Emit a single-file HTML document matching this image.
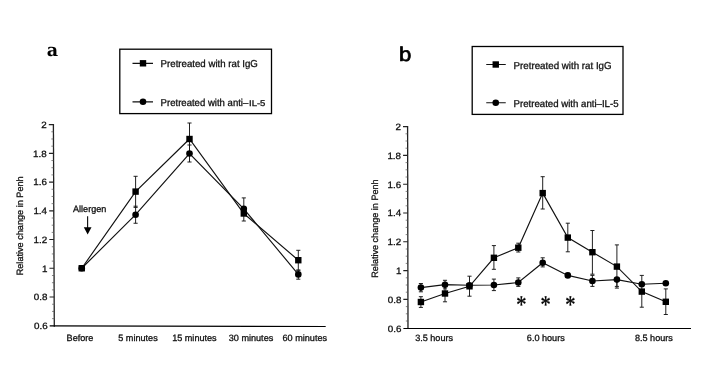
<!DOCTYPE html>
<html lang="en"><head><meta charset="utf-8"><title>Relative change in Penh</title>
<style>html,body{margin:0;padding:0;background:#fff}body{width:701px;height:368px;overflow:hidden}svg{display:block;will-change:transform}text{font-family:"Liberation Sans",Arial,Helvetica,sans-serif;fill:#111;stroke:#111;stroke-width:0.3px;text-rendering:geometricPrecision}.t{font-size:9.1px}.x{font-size:9.1px}.y{font-size:9.2px}.lg{font-size:10px}.ln{stroke:#111;stroke-width:1.15;fill:none}.ax{stroke:#222;stroke-width:1.3;fill:none}.eb{stroke:#151515;stroke-width:0.95;fill:none}.mk{fill:#000}.mn{stroke:#555;stroke-width:0.7}</style></head><body>
<svg width="701" height="368" viewBox="0 0 701 368">
<rect width="701" height="368" fill="#fff"/>
<text x="46.8" y="55.9" style="font-family:'DejaVu Serif','Liberation Serif',serif;font-weight:bold;font-size:17.5px;fill:#000;stroke:none">a</text>
<rect x="119.8" y="49.2" width="151.7" height="64.4" fill="none" stroke="#000" stroke-width="1.3"/>
<path class="ln" d="M132.5 63.3H153M132.5 101.8H153"/>
<rect class="mk" x="139.8" y="60.1" width="6.4" height="6.4"/>
<circle class="mk" cx="143" cy="101.8" r="3.3"/>
<text class="lg" x="160.6" y="67.1" textLength="97.3" lengthAdjust="spacingAndGlyphs">Pretreated with rat IgG</text>
<text class="lg" x="160.6" y="105.6" textLength="87.7" lengthAdjust="spacingAndGlyphs">Pretreated with anti–</text>
<text class="lg" x="249" y="105.6" style="font-size:8.3px" textLength="16.4" lengthAdjust="spacingAndGlyphs">IL-5</text>
<path class="ax" d="M53.4 124L54.3 326.8"/>
<path class="ax" style="stroke:#000;stroke-width:1.1" d="M49.7 325.9L325.7 326.5"/>
<text class="t" transform="translate(46.6,127.9) scale(1.08,1)" text-anchor="end">2</text>
<text class="t" transform="translate(46.76,156.64) scale(1.08,1)" text-anchor="end">1.8</text>
<text class="t" transform="translate(46.91,185.39) scale(1.08,1)" text-anchor="end">1.6</text>
<text class="t" transform="translate(47.07,214.13) scale(1.08,1)" text-anchor="end">1.4</text>
<text class="t" transform="translate(47.23,242.87) scale(1.08,1)" text-anchor="end">1.2</text>
<text class="t" transform="translate(47.39,271.61) scale(1.08,1)" text-anchor="end">1</text>
<text class="t" transform="translate(47.54,300.36) scale(1.08,1)" text-anchor="end">0.8</text>
<text class="t" transform="translate(47.7,329.1) scale(1.08,1)" text-anchor="end">0.6</text>
<path class="ax" style="stroke-width:1.1" d="M48.8 124.6H53.4M48.93 153.34H53.53M49.06 182.09H53.66M49.19 210.83H53.79M49.31 239.57H53.91M49.44 268.31H54.04M49.57 297.06H54.17"/>
<path class="mn" d="M51.3 131.79H53.4M51.3 138.97H53.4M51.3 146.16H53.4M51.43 160.53H53.53M51.43 167.71H53.53M51.43 174.9H53.53M51.56 189.27H53.66M51.56 196.46H53.66M51.56 203.64H53.66M51.69 218.01H53.79M51.69 225.2H53.79M51.69 232.39H53.79M51.81 246.76H53.91M51.81 253.94H53.91M51.81 261.13H53.91M51.94 275.5H54.04M51.94 282.69H54.04M51.94 289.87H54.04M52.07 304.24H54.17M52.07 311.43H54.17M52.07 318.61H54.17"/>
<text class="y" transform="translate(23.4,275.3) rotate(-90)" textLength="99" lengthAdjust="spacingAndGlyphs">Relative change in Penh</text>
<text class="x" x="80" y="340.8" text-anchor="middle">Before</text>
<text class="x" x="138" y="340.8" text-anchor="middle">5 minutes</text>
<text class="x" x="194.4" y="340.8" text-anchor="middle">15 minutes</text>
<text class="x" x="251" y="340.8" text-anchor="middle">30 minutes</text>
<text class="x" x="304.8" y="340.8" text-anchor="middle">60 minutes</text>
<text class="x" x="73" y="212" textLength="33.3" lengthAdjust="spacingAndGlyphs">Allergen</text>
<path class="ln" d="M87.6 216.2V229"/><path class="mk" d="M83.8 227.2H91.5L87.65 234.4Z"/>
<path class="eb" d="M135.6 176.3V207.4M133.55 176.3H137.65M133.55 207.4H137.65M135.6 206.2V223.25M133.55 206.2H137.65M133.55 223.25H137.65M189.5 123V155.5M187.45 123H191.55M187.45 155.5H191.55M189.5 145V162M187.45 145H191.55M187.45 162H191.55M243.8 197.9V221M241.75 197.9H245.85M241.75 221H245.85M298.3 250.3V270M296.25 250.3H300.35M296.25 270H300.35M298.3 270.3V279.2M296.25 270.3H300.35M296.25 279.2H300.35"/>
<path class="ln" d="M81.75 268.25 L135.6 191.6 L189.5 139 L243.8 213.5 L298.3 260.2"/>
<path class="ln" d="M81.75 268.25 L135.6 214.7 L189.5 153.5 L243.8 208.8 L298.3 274.4"/>
<circle class="mk" cx="81.75" cy="268.25" r="3.3"/>
<rect class="mk" x="78.55" y="265.05" width="6.4" height="6.4"/>
<circle class="mk" cx="135.6" cy="214.7" r="3.3"/>
<rect class="mk" x="132.4" y="188.4" width="6.4" height="6.4"/>
<circle class="mk" cx="189.5" cy="153.5" r="3.3"/>
<rect class="mk" x="186.3" y="135.8" width="6.4" height="6.4"/>
<circle class="mk" cx="243.8" cy="208.8" r="3.3"/>
<rect class="mk" x="240.6" y="210.3" width="6.4" height="6.4"/>
<circle class="mk" cx="298.3" cy="274.4" r="3.3"/>
<rect class="mk" x="295.1" y="257" width="6.4" height="6.4"/>
<text transform="translate(399.1,61.3) scale(1.11,1)" style="font-size:19.9px;fill:#000;stroke:#000;stroke-width:0.7px">b</text>
<rect x="472.2" y="46.5" width="150.8" height="67.9" fill="none" stroke="#000" stroke-width="1.3"/>
<path class="ln" d="M486.25 64.5H505.75M486.25 102.75H505.75"/>
<rect class="mk" x="492.55" y="61.3" width="6.4" height="6.4"/>
<circle class="mk" cx="495.75" cy="102.75" r="3.3"/>
<text class="lg" x="513.6" y="68.8" textLength="98" lengthAdjust="spacingAndGlyphs">Pretreated with rat IgG</text>
<text class="lg" x="513.6" y="106.5" textLength="104.9" lengthAdjust="spacingAndGlyphs">Pretreated with anti–IL-5</text>
<path class="ax" d="M407.6 126L408 328.8"/>
<path class="ax" style="stroke:#000;stroke-width:1.1" d="M403.4 328.5L691 328.5"/>
<text class="t" transform="translate(401,129.9) scale(1.08,1)" text-anchor="end">2</text>
<text class="t" transform="translate(401.07,158.7) scale(1.08,1)" text-anchor="end">1.8</text>
<text class="t" transform="translate(401.14,187.5) scale(1.08,1)" text-anchor="end">1.6</text>
<text class="t" transform="translate(401.21,216.3) scale(1.08,1)" text-anchor="end">1.4</text>
<text class="t" transform="translate(401.29,245.1) scale(1.08,1)" text-anchor="end">1.2</text>
<text class="t" transform="translate(401.36,273.9) scale(1.08,1)" text-anchor="end">1</text>
<text class="t" transform="translate(401.43,302.7) scale(1.08,1)" text-anchor="end">0.8</text>
<text class="t" transform="translate(401.5,331.5) scale(1.08,1)" text-anchor="end">0.6</text>
<path class="ax" style="stroke-width:1.1" d="M403 126.6H407.6M403.06 155.4H407.66M403.11 184.2H407.71M403.17 213H407.77M403.23 241.8H407.83M403.29 270.6H407.89M403.34 299.4H407.94"/>
<path class="mn" d="M405.5 133.8H407.6M405.5 141H407.6M405.5 148.2H407.6M405.56 162.6H407.66M405.56 169.8H407.66M405.56 177H407.66M405.61 191.4H407.71M405.61 198.6H407.71M405.61 205.8H407.71M405.67 220.2H407.77M405.67 227.4H407.77M405.67 234.6H407.77M405.73 249H407.83M405.73 256.2H407.83M405.73 263.4H407.83M405.79 277.8H407.89M405.79 285H407.89M405.79 292.2H407.89M405.84 306.6H407.94M405.84 313.8H407.94M405.84 321H407.94"/>
<text class="y" transform="translate(378.3,277.7) rotate(-90)" textLength="98.3" lengthAdjust="spacingAndGlyphs">Relative change in Penh</text>
<text class="x" x="434.1" y="340.6" text-anchor="middle">3.5 hours</text>
<text class="x" x="545.8" y="340.6" text-anchor="middle">6.0 hours</text>
<text class="x" x="653.9" y="340.6" text-anchor="middle">8.5 hours</text>
<path class="eb" d="M420.9 296.7V307.4M418.85 296.7H422.95M418.85 307.4H422.95M420.9 283.5V291.8M418.85 283.5H422.95M418.85 291.8H422.95M445 284.8V301.8M442.95 284.8H447.05M442.95 301.8H447.05M445 280.3V288.9M442.95 280.3H447.05M442.95 288.9H447.05M469.5 276.2V296.2M467.45 276.2H471.55M467.45 296.2H471.55M493.9 245.6V269.3M491.85 245.6H495.95M491.85 269.3H495.95M493.9 279.1V290.6M491.85 279.1H495.95M491.85 290.6H495.95M518.3 243.2V252M516.25 243.2H520.35M516.25 252H520.35M518.3 277.9V286.4M516.25 277.9H520.35M516.25 286.4H520.35M542.7 176.7V209M540.65 176.7H544.75M540.65 209H544.75M542.7 257.8V266.9M540.65 257.8H544.75M540.65 266.9H544.75M567.8 223.2V251.8M565.75 223.2H569.85M565.75 251.8H569.85M567.8 273.3V277.5M565.75 273.3H569.85M565.75 277.5H569.85M592.4 230.5V274.2M590.35 230.5H594.45M590.35 274.2H594.45M592.4 275.4V286.4M590.35 275.4H594.45M590.35 286.4H594.45M616.9 244.9V288.1M614.85 244.9H618.95M614.85 288.1H618.95M616.9 279.6V286.4M614.85 279.6H618.95M614.85 286.4H618.95M641.8 275.4V307.2M639.75 275.4H643.85M639.75 307.2H643.85M665.8 288.9V314.5M663.75 288.9H667.85M663.75 314.5H667.85"/>
<path class="ln" d="M420.9 302 L445 293.5 L469.5 286.3 L493.9 257.8 L518.3 247.7 L542.7 193.1 L567.8 237.6 L592.4 252.2 L616.9 266.6 L641.8 291.6 L665.8 301.8"/>
<path class="ln" d="M420.9 287.6 L445 284.7 L469.5 285.2 L493.9 285 L518.3 282.5 L542.7 262.7 L567.8 275.4 L592.4 281 L616.9 279.6 L641.8 284.2 L665.8 283.3"/>
<rect class="mk" x="417.7" y="298.8" width="6.4" height="6.4"/>
<circle class="mk" cx="420.9" cy="287.6" r="3.3"/>
<rect class="mk" x="441.8" y="290.3" width="6.4" height="6.4"/>
<circle class="mk" cx="445" cy="284.7" r="3.3"/>
<rect class="mk" x="466.3" y="283.1" width="6.4" height="6.4"/>
<circle class="mk" cx="469.5" cy="285.2" r="3.3"/>
<rect class="mk" x="490.7" y="254.6" width="6.4" height="6.4"/>
<circle class="mk" cx="493.9" cy="285" r="3.3"/>
<rect class="mk" x="515.1" y="244.5" width="6.4" height="6.4"/>
<circle class="mk" cx="518.3" cy="282.5" r="3.3"/>
<rect class="mk" x="539.5" y="189.9" width="6.4" height="6.4"/>
<circle class="mk" cx="542.7" cy="262.7" r="3.3"/>
<rect class="mk" x="564.6" y="234.4" width="6.4" height="6.4"/>
<circle class="mk" cx="567.8" cy="275.4" r="3.3"/>
<rect class="mk" x="589.2" y="249" width="6.4" height="6.4"/>
<circle class="mk" cx="592.4" cy="281" r="3.3"/>
<rect class="mk" x="613.7" y="263.4" width="6.4" height="6.4"/>
<circle class="mk" cx="616.9" cy="279.6" r="3.3"/>
<rect class="mk" x="638.6" y="288.4" width="6.4" height="6.4"/>
<circle class="mk" cx="641.8" cy="284.2" r="3.3"/>
<rect class="mk" x="662.6" y="298.6" width="6.4" height="6.4"/>
<circle class="mk" cx="665.8" cy="283.3" r="3.3"/>
<text transform="translate(521.3,301) scale(0.93,1.17)" x="0" y="10" text-anchor="middle" style="font-family:'Liberation Serif',serif;font-size:22px;fill:#000;stroke:#000;stroke-width:0.3px">*</text>
<text transform="translate(545.6,301) scale(0.93,1.17)" x="0" y="10" text-anchor="middle" style="font-family:'Liberation Serif',serif;font-size:22px;fill:#000;stroke:#000;stroke-width:0.3px">*</text>
<text transform="translate(570.3,301) scale(0.93,1.17)" x="0" y="10" text-anchor="middle" style="font-family:'Liberation Serif',serif;font-size:22px;fill:#000;stroke:#000;stroke-width:0.3px">*</text>
</svg></body></html>
